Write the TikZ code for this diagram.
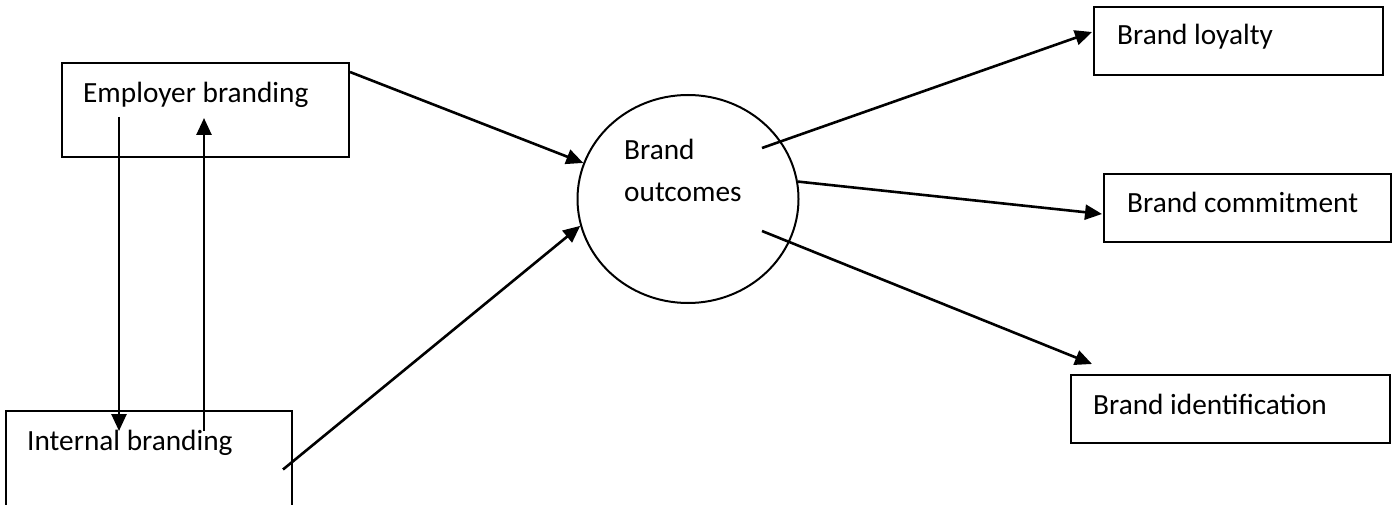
\documentclass[tikz,border=0pt]{standalone}
\usepackage{fontspec}
\setmainfont{Carlito}
\usetikzlibrary{arrows.meta,shapes.geometric}
\tikzset{
  box/.style={draw, line width=2pt, rectangle, inner sep=0pt},
  lbl/.style={anchor=base west, inner sep=0pt, font=\fontsize{29.3}{42}\selectfont},
  arr/.style={line width=2.6pt, -{Triangle[length=17pt,width=15pt]}},
}
\begin{document}
\begin{tikzpicture}[x=1pt,y=1pt]
\useasboundingbox (0,0) rectangle (1400,504);
\clip (0,0) rectangle (1400,504);
% boxes
\node[box, minimum width=287pt, minimum height=94pt] (emp) at (205.5,394) {};
\node[box, minimum width=286pt, minimum height=109pt] (int) at (149,38.5) {};
\node[draw, ellipse, line width=2pt, inner sep=0pt, minimum width=221pt, minimum height=208pt] (bo) at (688,305) {};
\node[box, minimum width=289pt, minimum height=68pt] (loy) at (1238.5,463) {};
\node[box, minimum width=287pt, minimum height=68pt] (com) at (1247.5,296) {};
\node[box, minimum width=319pt, minimum height=68pt] (ide) at (1230.5,95) {};
% labels
\node[lbl] (tEmp) at (83,401) {Employer branding};
\node[lbl] (tInt) at (27,54) {Internal branding};
\node[lbl, align=left] (tBo) at (624,302) {Brand\\outcomes};
\node[lbl] (tLoy) at (1117,459) {Brand loyalty};
\node[lbl] (tCom) at (1127,291) {Brand commitment};
\node[lbl] (tIde) at (1093,90) {Brand identification};
% connectors
\draw[arr] ([yshift=-10pt]emp.north east) -- (bo.161);
\draw[arr] ([shift={(-10pt,-4pt)}]int.east) -- (bo.194);
\draw[arr] ([shift={(74pt,51pt)}]bo.center) -- ([shift={(-1pt,9pt)}]loy.west);
\draw[arr] (bo.9) -- ([shift={(-1pt,-6pt)}]com.west);
\draw[arr] ([shift={(74pt,-32pt)}]bo.center) -- ([shift={(22pt,10pt)}]ide.north west);
\draw[arr] ([shift={(-86.5pt,-7pt)}]emp.center) -- ([shift={(-30pt,-21pt)}]int.north);
\draw[arr] ([shift={(55pt,-21pt)}]int.north) -- ([shift={(-1.5pt,-8pt)}]emp.center);
\end{tikzpicture}
\end{document}
